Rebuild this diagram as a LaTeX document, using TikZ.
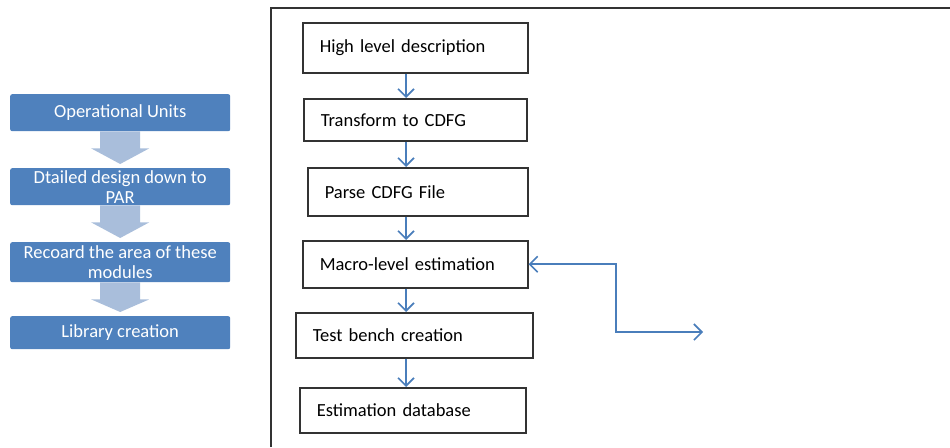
\documentclass[tikz,border=0pt]{standalone}
\usepackage{fontspec}
\setmainfont{Carlito}
\usetikzlibrary{positioning,arrows,arrows.meta,shapes,calc}
\definecolor{unitblue}{HTML}{4F81BD}
\definecolor{flowblue}{HTML}{A9BEDB}
\definecolor{lineblue}{HTML}{4A7EBB}

\begin{document}
\begin{tikzpicture}[x=1pt,y=-1pt,
  lbl/.style={font=\fontsize{18.5}{20}\selectfont},
  link/.style={draw=lineblue, line width=1.6pt, -{Straight Barb[length=8pt,width=16pt]}}]
\tikzstyle{unit}=[lbl, rectangle, rounded corners=2pt, fill=unitblue, text=white, anchor=north west, minimum width=220pt, align=center, inner sep=1pt]
\tikzstyle{stage}=[lbl, rectangle, draw=black!80, line width=1.5pt, anchor=north west, align=left, inner xsep=17pt, inner ysep=0pt]
\useasboundingbox (0,0) rectangle (950,447);
% frame
\draw[line width=1.5pt, black!80] (271,447) -- (271,8) -- (950,8);
% left flow
\node[unit, minimum height=37pt] (ou) at (10,94) {Operational Units};
\node[unit, minimum height=37pt] (dd) at (10,168) {Dtailed design down to\\PAR};
\node[unit, minimum height=40pt] (ra) at (10,242) {Recoard the area of these\\modules};
\node[unit, minimum height=33pt] (lc) at (10,316) {Library creation};
\foreach \i/\j in {ou/dd,dd/ra,ra/lc}{
  \fill[flowblue] ($(\i.south)+(-20,0)$) -- ($(\i.south)+(20,0)$) -- ($(\i.south)+(20,17)$) -- ($(\i.south)+(29,17)$)
    -- ($(\j.north)+(0,-4)$) -- ($(\i.south)+(-29,17)$) -- ($(\i.south)+(-20,17)$) -- cycle;}
% right flow
\node[stage, text width=191pt, minimum height=50pt] (hld) at (302,22) {High level description};
\node[stage, text width=189pt, minimum height=42pt] (tcd) at (303,98) {Transform to CDFG};
\node[stage, text width=186pt, minimum height=48pt] (pcf) at (307,167) {Parse CDFG File};
\node[stage, text width=191pt, minimum height=47pt] (mle) at (302,240) {Macro-level estimation};
\node[stage, text width=203pt, minimum height=45pt] (tbc) at (295,312) {Test bench creation};
\node[stage, text width=192pt, minimum height=45pt] (edb) at (299,387) {Estimation database};
\coordinate (axis) at (406,0);
\foreach \i/\j in {hld/tcd,tcd/pcf,pcf/mle,mle/tbc,tbc/edb}{\draw[link] (\i.south -| axis) -- (\j.north -| axis);}
\coordinate (bend) at (616,0);
\coordinate (out) at (703,332);
\draw[link, {Straight Barb[length=8pt,width=16pt]}-{Straight Barb[length=8pt,width=16pt]}] (mle.east) -- (mle.east -| bend) |- (out);
\end{tikzpicture}
\end{document}
